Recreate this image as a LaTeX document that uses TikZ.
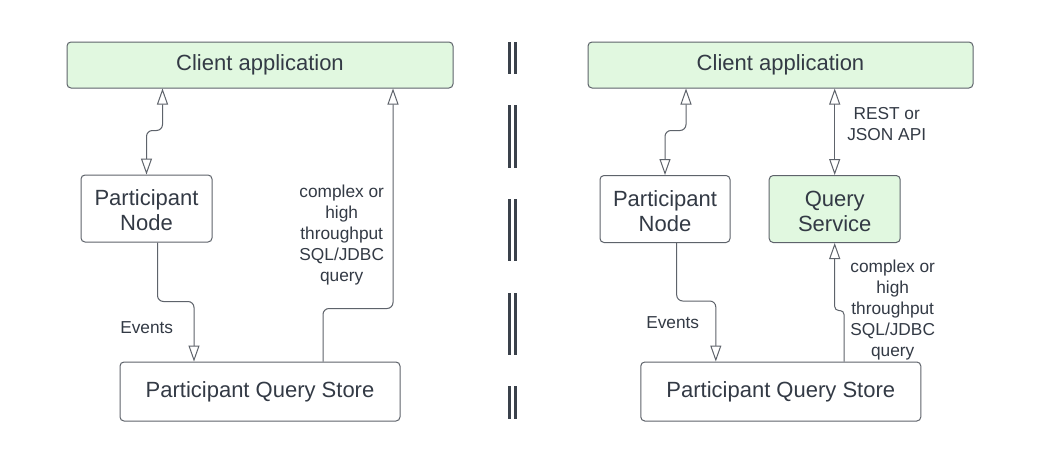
\documentclass[tikz,border=0pt]{standalone}
\usepackage{fontspec}
\setmainfont{Liberation Sans}
\usetikzlibrary{arrows.meta}
\definecolor{txt}{HTML}{333A45}
\definecolor{edge}{HTML}{5E636B}
\definecolor{gfill}{HTML}{E1F8E0}
\definecolor{bar}{HTML}{3A414B}
\newcommand{\tallstrut}{\rule{0pt}{20pt}}
\tikzset{
  box/.style={draw=edge, line width=1pt, rounded corners=4pt, text=txt, align=center,
    font=\fontsize{22}{25}\selectfont, inner sep=0pt},
  greenbox/.style={box, fill=gfill},
  whitebox/.style={box, fill=white},
  conn/.style={draw=edge, line width=1pt, rounded corners=6pt},
  otri/.tip={Triangle[open, length=16pt, width=11pt, fill=white]},
  lbl/.style={text=txt, align=center, font=\fontsize{17.3}{21}\selectfont, inner sep=0pt},
  sepbar/.style={draw=bar, line width=3pt}
}
\begin{document}
\begin{tikzpicture}[x=1pt, y=-1pt]
\useasboundingbox[fill=white] (0,0) rectangle (1042,463);

% left diagram
\node[greenbox, minimum width=386pt, minimum height=46pt] (cl) at (260,65) {Client application};
\node[whitebox, minimum width=131pt, minimum height=67pt] (pnl) at (146.5,208.5) {\tallstrut Participant\\Node};
\node[whitebox, minimum width=280pt, minimum height=59pt] (pqsl) at (260,391.5) {Participant Query Store};

\draw[conn, {otri}-{otri}] ([xshift=16pt]pnl.north |- cl.south) -- ++(0,42) -| (pnl.north);
\draw[conn, -{otri}] ([xshift=11pt]pnl.south) -- ++(0,59) -| ([xshift=-66pt]pqsl.north);
\draw[conn, -{otri}] ([xshift=63pt]pqsl.north) -- ++(0,-53) -| ([xshift=133pt]cl.south);

\node[lbl] (ev1) at (146.7,328) {Events};
\node[lbl] (q1) at (341.7,235) {complex or\\high\\throughput\\SQL/JDBC\\query};

% separator
\draw[sepbar] (509.5,42) -- (509.5,74) (515,42) -- (515,74);
\draw[sepbar] (509.5,105) -- (509.5,168) (515,105) -- (515,168);
\draw[sepbar] (509.5,199) -- (509.5,261) (515,199) -- (515,261);
\draw[sepbar] (509.5,293) -- (509.5,355) (515,293) -- (515,355);
\draw[sepbar] (509.5,386) -- (509.5,419) (515,386) -- (515,419);

% right diagram
\node[greenbox, minimum width=385pt, minimum height=46pt] (cr) at (780.5,65) {Client application};
\node[whitebox, minimum width=130pt, minimum height=67pt] (pnr) at (665,209) {\tallstrut Participant\\Node};
\node[greenbox, minimum width=131pt, minimum height=67pt] (qs) at (834.7,209) {\tallstrut Query\\Service};
\node[whitebox, minimum width=280pt, minimum height=59pt] (pqsr) at (780.8,391.5) {Participant Query Store};

\draw[conn, {otri}-{otri}] ([xshift=21pt]pnr.north |- cr.south) -- ++(0,42) -| (pnr.north);
\draw[conn, {otri}-{otri}] (qs.north |- cr.south) -- (qs.north);
\draw[conn, -{otri}] ([xshift=11.7pt]pnr.south) -- ++(0,58) -| ([xshift=-65pt]pqsr.north);
\draw[conn, rounded corners=4pt, -{otri}] ([xshift=9.3pt]qs.south |- pqsr.north) -- ++(0,-51) -| (qs.south);

\node[lbl] (ev2) at (672.7,322.7) {Events};
\node[lbl] (rest) at (886.7,124) {REST or\\JSON API};
\node[lbl] (q2) at (892.7,310.5) {complex or\\high\\throughput\\SQL/JDBC\\query};
\end{tikzpicture}
\end{document}
